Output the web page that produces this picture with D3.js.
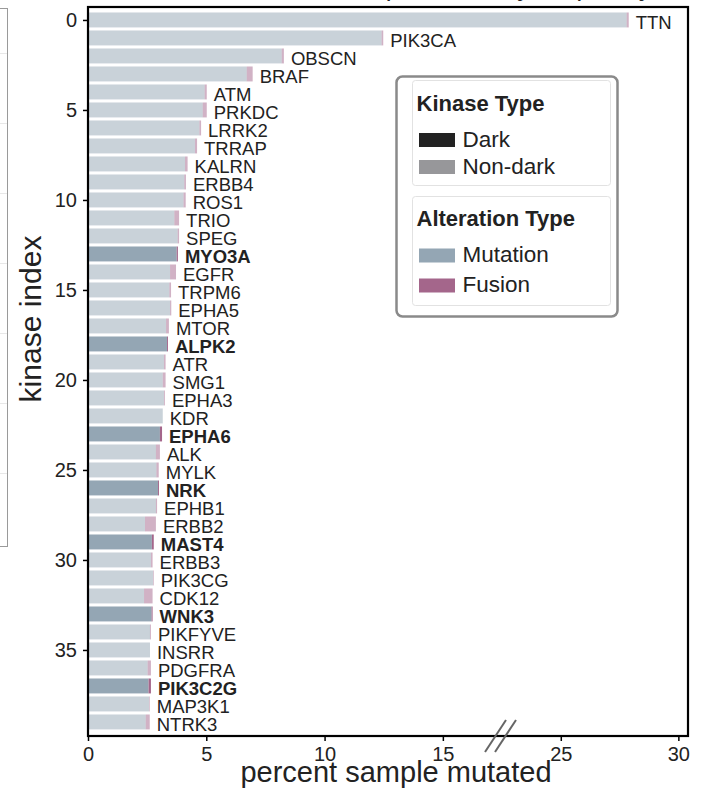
<!DOCTYPE html>
<html>
<head>
<meta charset="utf-8">
<script src="https://cdn.jsdelivr.net/npm/d3@7"></script>
<style>
  html, body { margin: 0; padding: 0; background: #fff; }
  svg { display: block; font-family: "Liberation Sans", Arial, Helvetica, sans-serif; }
</style>
</head>
<body>
<svg id="chart" width="710" height="794"></svg>
<script>
// Top 40 altered kinases, ordered by total alteration frequency
const kinases = ["TTN","PIK3CA","OBSCN","BRAF","ATM","PRKDC","LRRK2","TRRAP","KALRN","ERBB4",
  "ROS1","TRIO","SPEG","MYO3A","EGFR","TRPM6","EPHA5","MTOR","ALPK2","ATR",
  "SMG1","EPHA3","KDR","EPHA6","ALK","MYLK","NRK","EPHB1","ERBB2","MAST4",
  "ERBB3","PIK3CG","CDK12","WNK3","PIKFYVE","INSRR","PDGFRA","PIK3C2G","MAP3K1","NTRK3"];
// percent of samples with a mutation
const mutationPct = [27.80,12.41,8.19,6.71,4.93,4.85,4.71,4.52,4.10,4.07,
  4.04,3.65,3.79,3.75,3.47,3.44,3.47,3.30,3.34,3.21,
  3.16,3.21,3.16,3.04,2.87,2.89,2.96,2.87,2.41,2.70,
  2.66,2.75,2.37,2.69,2.62,2.62,2.52,2.56,2.58,2.44];
// percent of samples with a fusion
const fusionPct = [0.09,0.07,0.09,0.25,0.09,0.17,0.07,0.09,0.11,0.07,
  0.09,0.20,0.06,0.05,0.25,0.07,0.05,0.12,0.04,0.07,
  0.12,0.04,0.00,0.09,0.17,0.10,0.04,0.05,0.46,0.08,
  0.07,0.03,0.36,0.04,0.04,0.00,0.14,0.10,0.03,0.17];
// understudied ("dark") kinases
const darkKinases = ["MYO3A","ALPK2","EPHA6","NRK","MAST4","WNK3","PIK3C2G"];
const yTickValues = [0,5,10,15,20,25,30,35];
const xTickValues = [0,5,10,15,25,30];
// broken x axis: the interval 17.5–22.5 is cut out
const xBreak = [17.5, 22.5];

const COLORS = {
  mutation: "#94a6b4",
  fusion: "#a4668b",
  dark: "#222222",
  nondark: "#97979a"
};
const text = "#222";

const svg = d3.select("#chart");
const plot = { left: 88, right: 688, top: 7, bottom: 736 };

const x = d3.scaleLinear()
  .domain([0, xBreak[0], xBreak[1], 30.41])
  .range([plot.left, plot.left + 414, plot.left + 414, plot.right]);
const y = d3.scaleLinear()
  .domain([-0.72, 39.78])
  .range([plot.top, plot.bottom]);

const rows = kinases.map((k, i) => ({
  name: k, index: i, mut: mutationPct[i], fus: fusionPct[i], dark: darkKinases.includes(k)
}));

// neighbouring panel edge on the far left
const side = svg.append("g");
side.append("rect").attr("x", -300).attr("y", 8.5).attr("width", 307.5).attr("height", 538)
  .attr("fill", "none").attr("stroke", "#9a9a9a").attr("stroke-width", 1);
[53, 123, 193, 263, 333, 403, 473].forEach(v => {
  side.append("line").attr("x1", 0).attr("x2", 7).attr("y1", v + 0.5).attr("y2", v + 0.5)
    .attr("stroke", "#e8e8e8").attr("stroke-width", 1);
});

// title (mostly above the visible area)
svg.append("text").attr("x", 505).attr("y", -4).attr("text-anchor", "middle")
  .attr("font-size", 26).attr("fill", text).text("Top kinases by frequency");

// bars
const half = 0.415;
const barG = svg.append("g");
barG.selectAll("rect.mut").data(rows).join("rect").attr("class", "mut")
  .attr("x", x(0)).attr("y", d => y(d.index - half))
  .attr("width", d => x(d.mut) - x(0)).attr("height", d => y(d.index + half) - y(d.index - half))
  .attr("fill", COLORS.mutation).attr("fill-opacity", d => d.dark ? 1 : 0.5);
barG.selectAll("rect.fus").data(rows.filter(d => d.fus > 0)).join("rect").attr("class", "fus")
  .attr("x", d => x(d.mut)).attr("y", d => y(d.index - half))
  .attr("width", d => x(d.mut + d.fus) - x(d.mut)).attr("height", d => y(d.index + half) - y(d.index - half))
  .attr("fill", COLORS.fusion).attr("fill-opacity", d => d.dark ? 1 : 0.5);

// bar labels
barG.selectAll("text").data(rows).join("text")
  .attr("x", d => x(d.mut + d.fus) + 7).attr("y", d => y(d.index) + 9.5)
  .attr("font-size", 18.5).attr("fill", text)
  .attr("font-weight", d => d.dark ? "bold" : "normal")
  .text(d => d.name);

// axes
const yAxis = svg.append("g").attr("transform", `translate(${plot.left},0)`)
  .call(d3.axisLeft(y).tickValues(yTickValues).tickSize(5).tickPadding(6));
yAxis.select(".domain").remove();
yAxis.selectAll(".tick line").attr("stroke", "#000").attr("stroke-width", 1.5);
yAxis.selectAll("text").attr("font-size", 20).attr("fill", text).attr("font-family", null);

const xAxis = svg.append("g").attr("transform", `translate(0,${plot.bottom})`)
  .call(d3.axisBottom(x).tickValues(xTickValues).tickSize(5).tickPadding(6));
xAxis.select(".domain").remove();
xAxis.selectAll(".tick line").attr("stroke", "#000").attr("stroke-width", 1.5);
xAxis.selectAll("text").attr("font-size", 20).attr("fill", text).attr("font-family", null);

// frame
svg.append("rect").attr("x", plot.left).attr("y", plot.top)
  .attr("width", plot.right - plot.left).attr("height", plot.bottom - plot.top)
  .attr("fill", "none").attr("stroke", "#000").attr("stroke-width", 2.2);

// axis break marks
const bx = x(xBreak[0]);
[-6, 4].forEach(off => {
  svg.append("line")
    .attr("x1", bx + off - 11).attr("y1", plot.bottom + 16)
    .attr("x2", bx + off + 10).attr("y2", plot.bottom - 16)
    .attr("stroke", "#666").attr("stroke-width", 2);
});

// axis titles
svg.append("text").attr("x", 396).attr("y", 782).attr("text-anchor", "middle")
  .attr("font-size", 29).attr("fill", text).text("percent sample mutated");
svg.append("text").attr("transform", "translate(41,319) rotate(-90)").attr("text-anchor", "middle")
  .attr("font-size", 30).attr("fill", text).text("kinase index");

// legend
const lg = svg.append("g");
lg.append("rect").attr("x", 396.5).attr("y", 76.5).attr("width", 221).attr("height", 240)
  .attr("rx", 6).attr("fill", "#fff").attr("stroke", "#8a8a8a").attr("stroke-width", 2.5);
lg.append("rect").attr("x", 412.5).attr("y", 80.5).attr("width", 198).attr("height", 105)
  .attr("rx", 3).attr("fill", "#fff").attr("stroke", "#e2e2e2").attr("stroke-width", 1);
lg.append("rect").attr("x", 412.5).attr("y", 196.5).attr("width", 198).attr("height", 109)
  .attr("rx", 3).attr("fill", "#fff").attr("stroke", "#e2e2e2").attr("stroke-width", 1);

const legendGroups = [
  { title: "Kinase Type", ty: 111, items: [
    { label: "Dark", color: COLORS.dark, y: 133 },
    { label: "Non-dark", color: COLORS.nondark, y: 160 }] },
  { title: "Alteration Type", ty: 226, items: [
    { label: "Mutation", color: COLORS.mutation, y: 248.5 },
    { label: "Fusion", color: COLORS.fusion, y: 278.5 }] }
];
legendGroups.forEach(g => {
  lg.append("text").attr("x", 416.5).attr("y", g.ty).attr("font-size", 22).attr("font-weight", "bold")
    .attr("fill", text).text(g.title);
  g.items.forEach(it => {
    lg.append("rect").attr("x", 419).attr("y", it.y).attr("width", 36).attr("height", 14).attr("fill", it.color);
    lg.append("text").attr("x", 462.5).attr("y", it.y + 13.5).attr("font-size", 22.5)
      .attr("fill", text).text(it.label);
  });
});
</script>
</body>
</html>
